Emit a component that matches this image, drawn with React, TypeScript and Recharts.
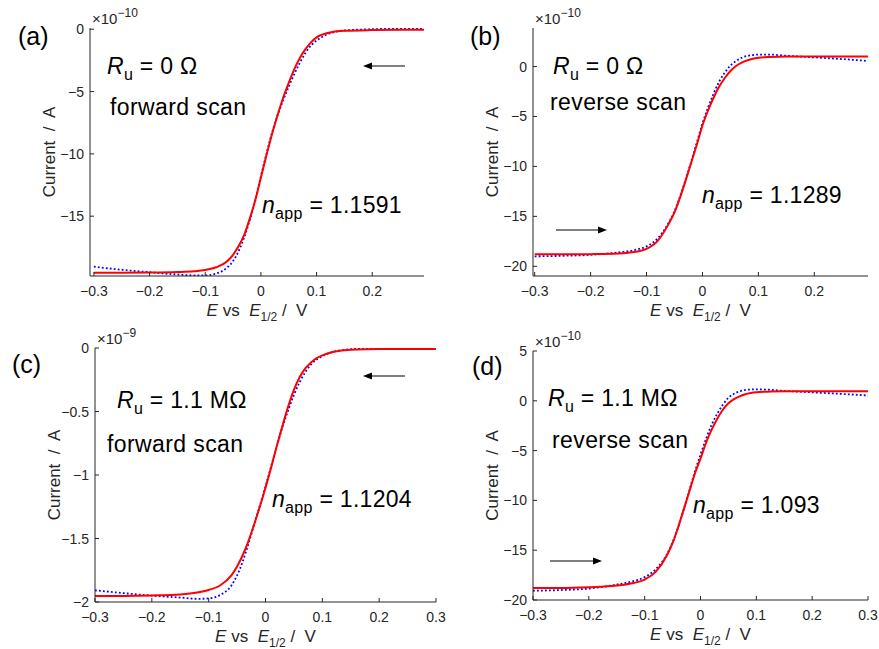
import { LineChart, Line, XAxis, YAxis } from "recharts"

const FONT = "'Liberation Sans', Arial, Helvetica, sans-serif"
const INK = "#262626"
const TICK_LEN = 4

const E_GRID = [-0.3, -0.25, -0.2, -0.15, -0.12, -0.1, -0.08, -0.06, -0.05, -0.04, -0.03, -0.02, -0.01, 0,
  0.01, 0.02, 0.03, 0.04, 0.05, 0.06, 0.07, 0.08, 0.09, 0.1, 0.12, 0.15, 0.2, 0.25]
const E_A = [...E_GRID, 0.293]
const E_B = [...E_GRID, 0.296]
const E_CD = [...E_GRID, 0.3]

// (a) Ru = 0, forward scan  (x1e-10 A)
const FIT_A = [-19.53, -19.53, -19.52, -19.48, -19.42, -19.32, -19.1, -18.6, -18.1, -17.4, -16.5, -15.2, -13.7, -11.9,
  -10.1, -8.4, -6.9, -5.5, -4.3, -3.2, -2.3, -1.6, -1.05, -0.65, -0.3, -0.13, -0.07, -0.05, -0.05]
const MEAS_A = [-19.05, -19.3, -19.5, -19.68, -19.75, -19.75, -19.6, -19.1, -18.6, -17.8, -16.7, -15.3, -13.7, -11.8,
  -10.0, -8.3, -6.9, -5.7, -4.6, -3.6, -2.7, -1.9, -1.3, -0.9, -0.4, -0.1, 0.0, 0.05, 0.08]

// (b) Ru = 0, reverse scan  (x1e-10 A)
const FIT_B = [-18.8, -18.8, -18.78, -18.72, -18.55, -18.25, -17.45, -15.7, -14.6, -13.1, -11.4, -9.6, -7.8, -5.9,
  -4.4, -3.1, -2.0, -1.15, -0.45, 0.05, 0.4, 0.62, 0.78, 0.88, 0.96, 1.0, 1.0, 1.0, 1.0]
const MEAS_B = [-19.0, -18.95, -18.85, -18.6, -18.35, -18.0, -17.2, -15.6, -14.5, -13.0, -11.3, -9.5, -7.6, -5.7,
  -4.1, -2.7, -1.5, -0.6, 0.1, 0.55, 0.88, 1.06, 1.15, 1.2, 1.2, 1.08, 0.92, 0.75, 0.56]

// (c) Ru = 1.1 MOhm, forward scan  (x1e-9 A)
const FIT_C = [-1.953, -1.952, -1.948, -1.94, -1.925, -1.905, -1.87, -1.79, -1.72, -1.63, -1.52, -1.39, -1.25, -1.1,
  -0.94, -0.77, -0.61, -0.46, -0.33, -0.23, -0.16, -0.115, -0.08, -0.058, -0.03, -0.013, -0.008, -0.008, -0.008]
const MEAS_C = [-1.908, -1.93, -1.95, -1.965, -1.975, -1.972, -1.945, -1.87, -1.79, -1.68, -1.54, -1.39, -1.24, -1.09,
  -0.93, -0.77, -0.62, -0.49, -0.37, -0.27, -0.19, -0.13, -0.09, -0.065, -0.03, -0.01, 0.0, 0.003, 0.005]

// (d) Ru = 1.1 MOhm, reverse scan  (x1e-10 A)
const FIT_D = [-18.8, -18.8, -18.72, -18.55, -18.3, -17.95, -17.15, -15.5, -14.3, -12.7, -10.9, -9.1, -7.3, -5.8,
  -4.2, -2.9, -1.8, -0.9, -0.25, 0.17, 0.45, 0.65, 0.78, 0.86, 0.92, 0.95, 0.96, 0.96, 0.96]
const MEAS_D = [-19.07, -19.0, -18.85, -18.45, -18.1, -17.7, -16.9, -15.4, -14.2, -12.7, -10.9, -9.0, -7.1, -5.4,
  -3.8, -2.4, -1.3, -0.4, 0.3, 0.7, 0.95, 1.08, 1.13, 1.15, 1.12, 1.0, 0.85, 0.7, 0.53]

const X_TICKS_AB = [-0.3, -0.2, -0.1, 0, 0.1, 0.2]
const X_TICKS_CD = [-0.3, -0.2, -0.1, 0, 0.1, 0.2, 0.3]
const Y_TICKS_A = [-15, -10, -5, 0]
const Y_TICKS_B = [-20, -15, -10, -5, 0]
const Y_TICKS_C = [-2, -1.5, -1, -0.5, 0]
const Y_TICKS_D = [-20, -15, -10, -5, 0, 5]

const PANEL_LETTERS = ["(a)", "(b)", "(c)", "(d)"]
const RU_TEXT = [" = 0 \u03A9", " = 0 \u03A9", " = 1.1 M\u03A9", " = 1.1 M\u03A9"]
const SCAN_TEXT = ["forward scan", "reverse scan", "forward scan", "reverse scan"]
const NAPP_TEXT = ["1.1591", "1.1289", "1.1204", "1.093"]
const EXPONENTS = ["\u221210", "\u221210", "\u22129", "\u221210"]

// plot-box placement and annotation anchors (pixels)
const PANELS = [
  { left: 90, top: 28, w: 334, h: 248, xDomain: [-0.307, 0.293], yDomain: [-19.8, 0.1], xTicks: X_TICKS_AB, yTicks: Y_TICKS_A,
    e: E_A, fit: FIT_A, meas: MEAS_A,
    letter: [18, 45], ru: [107, 74], scan: [110, 115], napp: [262, 213], arrow: [405, 363, 66] },
  { left: 533, top: 28, w: 335, h: 248, xDomain: [-0.303, 0.296], yDomain: [-20.97, 3.86], xTicks: X_TICKS_AB, yTicks: Y_TICKS_B,
    e: E_B, fit: FIT_B, meas: MEAS_B,
    letter: [470, 45], ru: [553, 74], scan: [550, 110], napp: [702, 203], arrow: [556, 607, 230] },
  { left: 95, top: 348, w: 341, h: 254, xDomain: [-0.3, 0.3], yDomain: [-2, 0], xTicks: X_TICKS_CD, yTicks: Y_TICKS_C,
    e: E_CD, fit: FIT_C, meas: MEAS_C,
    letter: [12, 373], ru: [117, 408], scan: [107, 452], napp: [272, 507], arrow: [405, 363, 376] },
  { left: 533, top: 351, w: 335, h: 249, xDomain: [-0.3, 0.3], yDomain: [-20, 5], xTicks: X_TICKS_CD, yTicks: Y_TICKS_D,
    e: E_CD, fit: FIT_D, meas: MEAS_D,
    letter: [472, 375], ru: [548, 406], scan: [552, 448], napp: [693, 513], arrow: [550, 602, 561] },
]

const YW = 60
const MT = 30
const MR = 20
const XH = 50

const fmt = (v: number) => (v === 0 ? "0" : String(v).replace("-", "\u2212"))

type Side = "bottom" | "left" | "top" | "right"

function makeTick(side: Side) {
  return (props: any) => {
    const { x, y, payload } = props
    if (side === "top") return <line x1={x} y1={y} x2={x} y2={y + TICK_LEN} stroke={INK} />
    if (side === "right") return <line x1={x} y1={y} x2={x - TICK_LEN} y2={y} stroke={INK} />
    if (side === "bottom") {
      return (
        <g>
          <line x1={x} y1={y} x2={x} y2={y - TICK_LEN} stroke={INK} />
          <text x={x} y={y + 20} textAnchor="middle" fontSize={14} fill={INK} fontFamily={FONT}>{fmt(payload.value)}</text>
        </g>
      )
    }
    return (
      <g>
        <line x1={x} y1={y} x2={x + TICK_LEN} y2={y} stroke={INK} />
        <text x={x - 6} y={y + 5} textAnchor="end" fontSize={14} fill={INK} fontFamily={FONT}>{fmt(payload.value)}</text>
      </g>
    )
  }
}

const renderXLabel = (props: any) => {
  const { x, y, width } = props.viewBox
  return (
    <text x={x + width / 2} y={y + 40} textAnchor="middle" fontSize={17} fill={INK} fontFamily={FONT} style={{ whiteSpace: "pre" }}>
      <tspan fontStyle="italic">E</tspan>
      <tspan>{" vs  "}</tspan>
      <tspan fontStyle="italic">E</tspan>
      <tspan fontSize={12} dy={5}>1/2</tspan>
      <tspan dy={-5}>{" /  V"}</tspan>
    </text>
  )
}

const makeYLabel = (exp: string) => (props: any) => {
  const { x, y, width, height } = props.viewBox
  const px = x + width
  return (
    <g fontFamily={FONT} fill={INK}>
      <text transform={`translate(${px - 35},${y + height / 2}) rotate(-90)`} textAnchor="middle" fontSize={17} style={{ whiteSpace: "pre" }}>
        {"Current  /  A"}
      </text>
      <text x={px + 2} y={y - 4} fontSize={15}>
        {"\u00D710"}
        <tspan fontSize={12} dy={-7}>{exp}</tspan>
      </text>
    </g>
  )
}

function Panel({ idx }: { idx: number }) {
  const p = PANELS[idx]
  const rows = p.e.map((e, i) => ({ e, fit: p.fit[i], meas: p.meas[i] }))
  return (
    <div style={{ position: "absolute", left: p.left - YW, top: p.top - MT }}>
      <LineChart width={YW + p.w + MR} height={MT + p.h + XH} data={rows} margin={{ top: MT, right: MR, left: 0, bottom: 0 }}>
        <XAxis xAxisId="b" dataKey="e" type="number" domain={p.xDomain} ticks={p.xTicks} allowDataOverflow interval={0}
          height={XH} tickSize={0} tickMargin={0} tickLine={false} axisLine={{ stroke: INK }} tick={makeTick("bottom")}
          label={renderXLabel} />
        <XAxis xAxisId="t" orientation="top" dataKey="e" type="number" domain={p.xDomain} ticks={p.xTicks} allowDataOverflow interval={0}
          height={0} tickSize={0} tickMargin={0} tickLine={false} axisLine={{ stroke: INK }} tick={makeTick("top")} />
        <YAxis yAxisId="l" type="number" domain={p.yDomain} ticks={p.yTicks} allowDataOverflow interval={0}
          width={YW} tickSize={0} tickMargin={0} tickLine={false} axisLine={{ stroke: INK }} tick={makeTick("left")}
          label={makeYLabel(EXPONENTS[idx])} />
        <YAxis yAxisId="r" orientation="right" type="number" domain={p.yDomain} ticks={p.yTicks} allowDataOverflow interval={0}
          width={0} tickSize={0} tickMargin={0} tickLine={false} axisLine={{ stroke: INK }} tick={makeTick("right")} />
        <Line xAxisId="b" yAxisId="l" type="monotone" dataKey="meas" stroke="#0000ff" strokeWidth={1.8}
          strokeDasharray="1.8 2.2" dot={false} isAnimationActive={false} />
        <Line xAxisId="b" yAxisId="l" type="monotone" dataKey="fit" stroke="#ff0000" strokeWidth={2}
          dot={false} isAnimationActive={false} />
      </LineChart>
    </div>
  )
}

function Arrow({ from, to, y }: { from: number; to: number; y: number }) {
  const dir = Math.sign(to - from)
  return (
    <g>
      <line x1={from} y1={y} x2={to - dir * 7} y2={y} stroke="#000" strokeWidth={1.2} />
      <polygon points={`${to},${y} ${to - dir * 9},${y - 3.5} ${to - dir * 9},${y + 3.5}`} fill="#000" />
    </g>
  )
}

function Annotations() {
  return (
    <svg width={879} height={649} style={{ position: "absolute", left: 0, top: 0, pointerEvents: "none" }}
      fontFamily={FONT} fill="#000">
      {PANELS.map((p, i) => (
        <g key={i} style={{ whiteSpace: "pre" }}>
          <text x={p.letter[0]} y={p.letter[1]} fontSize={25}>{PANEL_LETTERS[i]}</text>
          <text x={p.ru[0]} y={p.ru[1]} fontSize={23} letterSpacing={0.3}>
            <tspan fontStyle="italic">R</tspan>
            <tspan fontSize={16} dy={6}>u</tspan>
            <tspan dy={-6}>{RU_TEXT[i]}</tspan>
          </text>
          <text x={p.scan[0]} y={p.scan[1]} fontSize={23} letterSpacing={0.4}>{SCAN_TEXT[i]}</text>
          <text x={p.napp[0]} y={p.napp[1]} fontSize={23} letterSpacing={0.3}>
            <tspan fontStyle="italic">n</tspan>
            <tspan fontSize={16} dy={6}>app</tspan>
            <tspan dy={-6}>{" = " + NAPP_TEXT[i]}</tspan>
          </text>
          <Arrow from={p.arrow[0]} to={p.arrow[1]} y={p.arrow[2]} />
        </g>
      ))}
    </svg>
  )
}

export default function App() {
  return (
    <div style={{ position: "absolute", left: 0, top: 0, width: 879, height: 649, overflow: "hidden", background: "#fff", fontFamily: FONT }}>
      {PANELS.map((_, i) => <Panel key={i} idx={i} />)}
      <Annotations />
    </div>
  )
}
